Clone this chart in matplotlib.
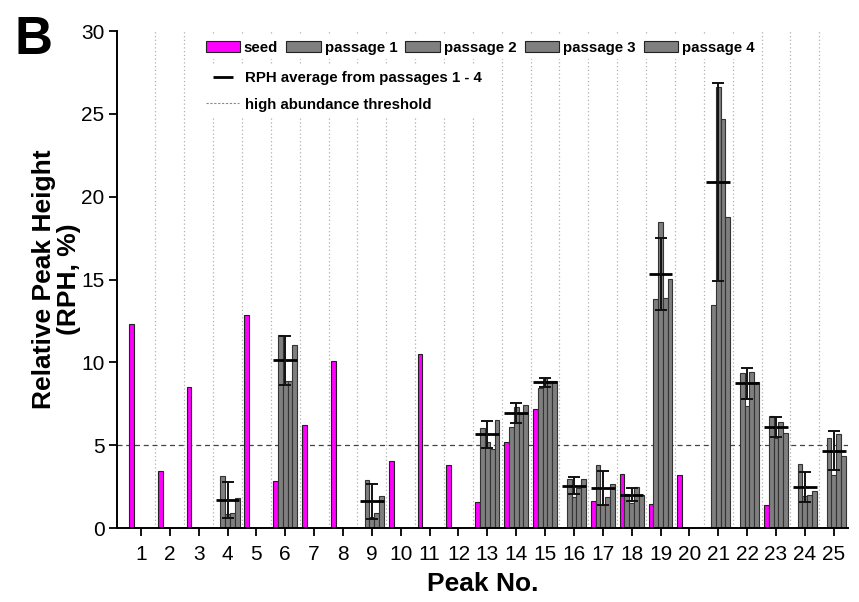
import numpy as np
import matplotlib
matplotlib.use('Agg')
import matplotlib.pyplot as plt
from matplotlib.patches import Patch
from matplotlib.lines import Line2D

plt.rcParams['font.family'] = ['Liberation Sans', 'DejaVu Sans']

peaks = list(range(1, 26))
seed = [12.3, 3.47, 8.53, 0, 12.84, 2.82, 6.21, 10.06, 0, 4.07, 10.5, 3.8, 1.55,
        5.22, 7.18, 0, 1.61, 3.27, 1.45, 3.17, 0, 0, 1.41, 0, 0]
passage1 = [0, 0, 0, 3.15, 0, 11.67, 0, 0, 2.91, 0, 0, 0, 6.06, 6.12, 8.43, 2.96,
            3.78, 2.04, 13.85, 0, 13.45, 9.34, 6.78, 3.84, 5.46]
passage2 = [0, 0, 0, 0.82, 0, 8.87, 0, 0, 0.65, 0, 0, 0, 5.22, 7.33, 9.05, 1.88,
            1.39, 1.53, 18.45, 0, 26.65, 7.37, 5.46, 1.93, 3.17]
passage3 = [0, 0, 0, 0.90, 0, 8.87, 0, 0, 0.91, 0, 0, 0, 4.76, 6.86, 8.9, 2.4,
            1.86, 2.47, 13.9, 0, 24.7, 9.4, 6.37, 1.97, 5.7]
passage4 = [0, 0, 0, 1.83, 0, 11.05, 0, 0, 1.96, 0, 0, 0, 6.55, 7.45, 8.85, 2.98,
            2.65, 1.98, 15.06, 0, 18.75, 8.82, 5.73, 2.24, 4.36]
threshold = 5
series_labels = ['seed', 'passage 1', 'passage 2', 'passage 3', 'passage 4']

fig = plt.figure(figsize=(8.59, 6.02), dpi=100)
ax = fig.add_axes([0.1362, 0.1229, 0.8508, 0.8256])

x = np.array(peaks, dtype=float)
w = 0.166
series = [seed, passage1, passage2, passage3, passage4]
colors = ['#ff00ff', '#7f7f7f', '#7f7f7f', '#7f7f7f', '#7f7f7f']
edges = ['#222222', '#333333', '#333333', '#333333', '#333333']
for i, (vals, c, ec) in enumerate(zip(series, colors, edges)):
    ax.bar(x + (i - 2) * w, vals, width=w, color=c, edgecolor=ec,
           linewidth=0.8, zorder=2)

P = np.array([passage1, passage2, passage3, passage4])
has = P.sum(axis=0) > 0
mean = P.mean(axis=0)
sd = P.std(axis=0, ddof=1)
ax.hlines(mean[has], x[has] - 0.41, x[has] + 0.41, color='black', linewidth=2.0, zorder=4)
ax.errorbar(x[has], mean[has], yerr=sd[has], fmt='none', ecolor='#111111',
            elinewidth=1.4, capsize=4.5, capthick=1.4, zorder=5)

# vertical dotted separators
ax.vlines(x[:-1] + 0.5, 0, 30, colors='#b0b0b0', linestyles=(0, (1, 2)),
          linewidth=0.9, zorder=0)
ax.axhline(threshold, color='#444444', linestyle=(0, (4, 3)), linewidth=0.9, zorder=1)

ax.set_xlim(0.17, 25.49)
ax.set_ylim(0, 30)
ax.set_xticks(peaks)
ax.set_xticklabels([str(p) for p in peaks])
ax.set_yticks([0, 5, 10, 15, 20, 25, 30])
ax.tick_params(axis='both', direction='out', length=6, width=1.3, labelsize=15)
ax.tick_params(axis='x', pad=6)
ax.tick_params(axis='y', pad=3)
for s in ['top', 'right']:
    ax.spines[s].set_visible(False)
for s in ['left', 'bottom']:
    ax.spines[s].set_linewidth(1.4)

ax.set_xlabel('Peak No.', fontsize=19, fontweight='bold', labelpad=6)
ax.set_ylabel('Relative Peak Height\n(RPH, %)', fontsize=19, fontweight='bold',
              labelpad=0, linespacing=1.05)

# legends
h1 = [Patch(facecolor=c, edgecolor='#222222', linewidth=0.8) for c in colors]
leg1 = ax.legend(h1, series_labels, ncol=5, loc='center left',
                 bbox_to_anchor=(0.115, 0.966), borderaxespad=0, borderpad=0.3,
                 frameon=True, facecolor='white', edgecolor='none', framealpha=1,
                 fancybox=False, handlelength=2.3, handleheight=0.7,
                 handletextpad=0.25, columnspacing=0.55,
                 prop={'weight': 'bold', 'size': 10.8})
ax.add_artist(leg1)
h2 = [Line2D([], [], color='black', marker='_', markersize=14, markeredgewidth=2,
             linestyle='None'),
      Line2D([], [], color='#888888', linestyle=(0, (2, 1.5)), linewidth=0.8)]
leg2 = ax.legend(h2, ['RPH average from passages 1 - 4', 'high abundance threshold'],
                 loc='center left', bbox_to_anchor=(0.116, 0.879), borderaxespad=0,
                 borderpad=0.3, frameon=True, facecolor='white', edgecolor='none',
                 framealpha=1, fancybox=False, handlelength=2.2,
                 handletextpad=0.4, labelspacing=0.85,
                 prop={'weight': 'bold', 'size': 10.8})

fig.text(0.017, 0.975, 'B', fontsize=38, fontweight='bold', va='top', ha='left')

fig.savefig('out.png', dpi=100)
